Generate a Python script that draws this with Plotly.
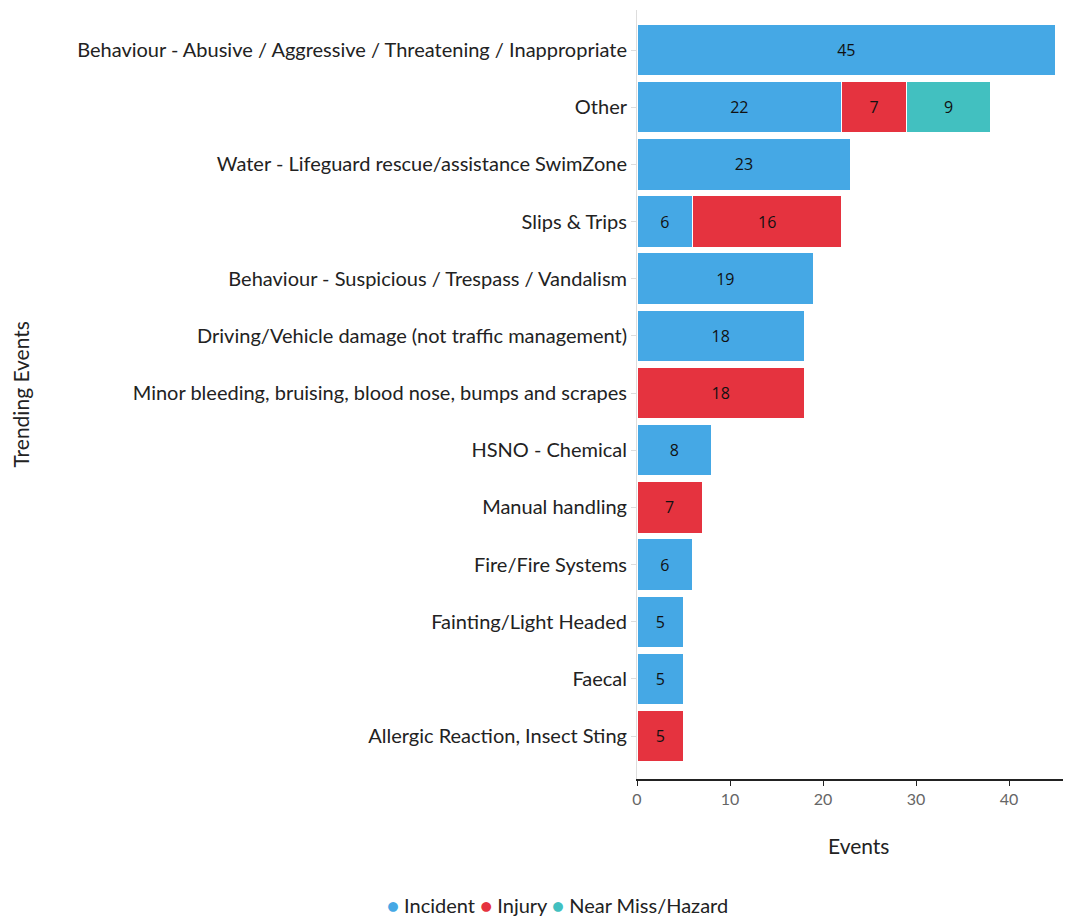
import plotly.graph_objects as go

categories = [
    "Behaviour - Abusive / Aggressive / Threatening / Inappropriate",
    "Other",
    "Water - Lifeguard rescue/assistance SwimZone",
    "Slips & Trips",
    "Behaviour - Suspicious / Trespass / Vandalism",
    "Driving/Vehicle damage (not traffic management)",
    "Minor bleeding, bruising, blood nose, bumps and scrapes",
    "HSNO - Chemical",
    "Manual handling",
    "Fire/Fire Systems",
    "Fainting/Light Headed",
    "Faecal",
    "Allergic Reaction, Insect Sting",
]
incident = [45, 22, 23, 6, 19, 18, None, 8, None, 6, 5, 5, None]
injury = [None, 7, None, 16, None, None, 18, None, 7, None, None, None, 5]
near_miss = [None, 9, None, None, None, None, None, None, None, None, None, None, None]

series = [
    ("Incident", incident, "#45A8E5"),
    ("Injury", injury, "#E5333F"),
    ("Near Miss/Hazard", near_miss, "#42C0C0"),
]

FONT = "Lato"
W, H = 1065, 917
ML, MR, MT, MB = 637, 2, 10, 138
PW = W - ML - MR
PH = H - MT - MB

fig = go.Figure()
for name, vals, color in series:
    fig.add_trace(go.Bar(
        y=categories, x=vals, orientation="h", name=name,
        marker=dict(color=color, line=dict(color="white", width=1)),
        text=[str(v) if v is not None else "" for v in vals],
        textposition="inside", insidetextanchor="middle",
        textfont=dict(color="#111", size=16, family="Open Sans"),
        showlegend=False, hoverinfo="x+y",
    ))

legend_text = " ".join(
    f"<span style='color:{c}'>●</span> {n}" for n, _, c in series
)

fig.update_layout(
    width=W, height=H,
    barmode="stack", bargap=0.1,
    plot_bgcolor="white", paper_bgcolor="white",
    font=dict(family=FONT, size=20, color="#222"),
    margin=dict(l=ML, r=MR, t=MT, b=MB),
    showlegend=False,
    xaxis=dict(range=[0, 45.8], tickvals=[0, 10, 20, 30, 40], showgrid=False, zeroline=False,
               showline=True, linecolor="#222", linewidth=1.5, ticks="outside", ticklen=5,
               tickcolor="#222", tickfont=dict(size=16, color="#666"), automargin=False),
    yaxis=dict(categoryorder="array", categoryarray=categories, range=[12.75, -0.7],
               showgrid=False, zeroline=False, showline=True, linecolor="#ddd", linewidth=1,
               ticks="outside", ticklen=5, tickcolor="#ddd", automargin=False,
               tickfont=dict(size=20, color="#222")),
    annotations=[
        dict(text="Trending Events", xref="paper", yref="paper", x=(20 - ML) / PW,
             y=0.5, xanchor="center", yanchor="middle", textangle=-90, showarrow=False,
             font=dict(size=21, color="#222")),
        dict(text="Events", xref="paper", yref="paper", x=(858 - ML) / PW,
             y=(MT + PH - 845) / PH, xanchor="center", yanchor="middle", showarrow=False,
             font=dict(size=21, color="#222")),
        dict(text=legend_text, xref="paper", yref="paper", x=(557 - ML) / PW,
             y=(MT + PH - 905) / PH, xanchor="center", yanchor="middle", showarrow=False,
             font=dict(size=20, color="#222")),
    ],
)

fig.write_html("out.html")
